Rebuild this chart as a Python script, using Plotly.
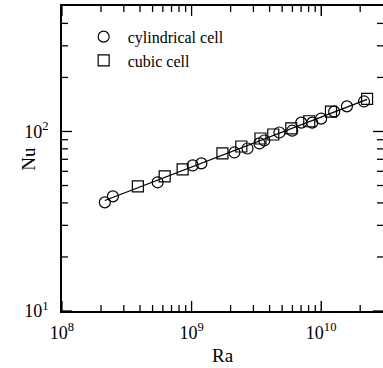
import numpy as np
import plotly.graph_objects as go

# Data
cyl_ra = [2.14e8, 2.47e8, 5.47e8, 1.02e9, 1.19e9, 2.14e9, 2.70e9, 3.34e9, 3.64e9,
          4.76e9, 5.98e9, 7.02e9, 8.53e9, 1.0e10, 1.26e10, 1.58e10, 2.14e10]
cyl_nu = [40.3, 43.5, 52.1, 64.7, 66.4, 76.4, 80.4, 85.8, 89.1,
          98.7, 101, 112, 112, 118, 129, 138, 147]
cub_ra = [3.85e8, 6.2e8, 8.53e8, 1.73e9, 2.42e9, 3.40e9, 4.27e9, 5.88e9, 8.09e9, 1.19e10, 2.26e10]
cub_nu = [49.5, 56.2, 61.5, 75.5, 82.5, 91.4, 96.2, 104, 114, 129, 152]

x_tickvals = [1e8, 1e9, 1e10]
x_ticktext = ["10<sup>8</sup>", "10<sup>9</sup>", "10<sup>10</sup>"]
y_tickvals = [10, 100]
y_ticktext = ["10<sup>1</sup>", "10<sup>2</sup>"]

# power-law fit
all_ra = np.array(cyl_ra + cub_ra)
all_nu = np.array(cyl_nu + cub_nu)
b, a = np.polyfit(np.log10(all_ra), np.log10(all_nu), 1)
fit_x = np.array([all_ra.min(), all_ra.max()])
fit_y = 10 ** (a + b * np.log10(fit_x))

font = "Liberation Serif"
xr = [8, float(np.log10(3e10))]
yr = [1, float(np.log10(500))]
minor_x = [k * 10 ** e for e in (8, 9, 10) for k in range(2, 10) if k * 10 ** e < 3e10]
minor_y = [k * 10 ** e for e in (1, 2) for k in range(2, 10) if k * 10 ** e < 500]

W, H = 383, 368
ML, MR, MT, MB = 62, 0, 6, 57
PW, PH = W - ML - MR, H - MT - MB

# inside tick marks on all four sides (data-unit positions on the log axes)
shapes = []
tick_line = dict(color="black", width=1.3)
for vals, ln in ((x_tickvals, 10), (minor_x, 6)):
    f = ln / PH
    for v in vals:
        for y0, y1 in ((0, f), (1 - f, 1)):
            shapes.append(dict(type="line", xref="x", yref="paper", x0=v, x1=v,
                               y0=y0, y1=y1, line=tick_line, layer="above"))
for vals, ln in ((y_tickvals, 10), (minor_y, 6)):
    f = ln / PW
    for v in vals:
        for x0, x1 in ((0, f), (1 - f, 1)):
            shapes.append(dict(type="line", xref="paper", yref="y", y0=v, y1=v,
                               x0=x0, x1=x1, line=tick_line, layer="above"))

fig = go.Figure()
fig.add_trace(go.Scatter(x=fit_x, y=fit_y, mode="lines",
                         line=dict(color="black", width=1.3), showlegend=False))
fig.add_trace(go.Scatter(x=cyl_ra, y=cyl_nu, mode="markers", name="cylindrical cell",
                         marker=dict(symbol="circle-open", size=11, color="black",
                                     line=dict(width=1.2))))
fig.add_trace(go.Scatter(x=cub_ra, y=cub_nu, mode="markers", name="cubic cell",
                         marker=dict(symbol="square-open", size=11, color="black",
                                     line=dict(width=1.2))))

common = dict(type="log", ticks="inside", ticklen=10, tickwidth=1.3, tickcolor="black",
              showgrid=False, zeroline=False,
              showline=True, linecolor="black", linewidth=1.8, mirror="ticks")

fig.update_layout(
    template="none",
    width=W, height=H,
    margin=dict(l=ML, r=MR, t=MT, b=MB),
    paper_bgcolor="white", plot_bgcolor="white",
    font=dict(family=font, size=18, color="black"),
    showlegend=True,
    legend=dict(x=0.055, y=0.955, xanchor="left", yanchor="top",
                bgcolor="rgba(0,0,0,0)", font=dict(size=16, family=font, color="black"),
                itemwidth=38, tracegroupgap=0),
    xaxis=dict(common, range=xr, tickvals=x_tickvals, ticktext=x_ticktext,
               ticklabelstandoff=4,
               tickfont=dict(family=font, size=18, color="black")),
    yaxis=dict(common, range=yr, tickvals=y_tickvals, ticktext=y_ticktext,
               ticklabelstandoff=8,
               tickfont=dict(family=font, size=18, color="black")),
    shapes=shapes,
    annotations=[
        dict(text="Ra", xref="paper", yref="paper", x=0.5, y=-0.145,
             xanchor="center", yanchor="middle", showarrow=False,
             font=dict(size=19, family=font, color="black")),
        dict(text="Nu", xref="paper", yref="paper", x=-0.105, y=0.5,
             xanchor="center", yanchor="middle", showarrow=False, textangle=-90,
             font=dict(size=19, family=font, color="black")),
    ],
)

fig.write_html("out.html", config={"displayModeBar": False},
               post_script="document.body.style.margin='0';")
